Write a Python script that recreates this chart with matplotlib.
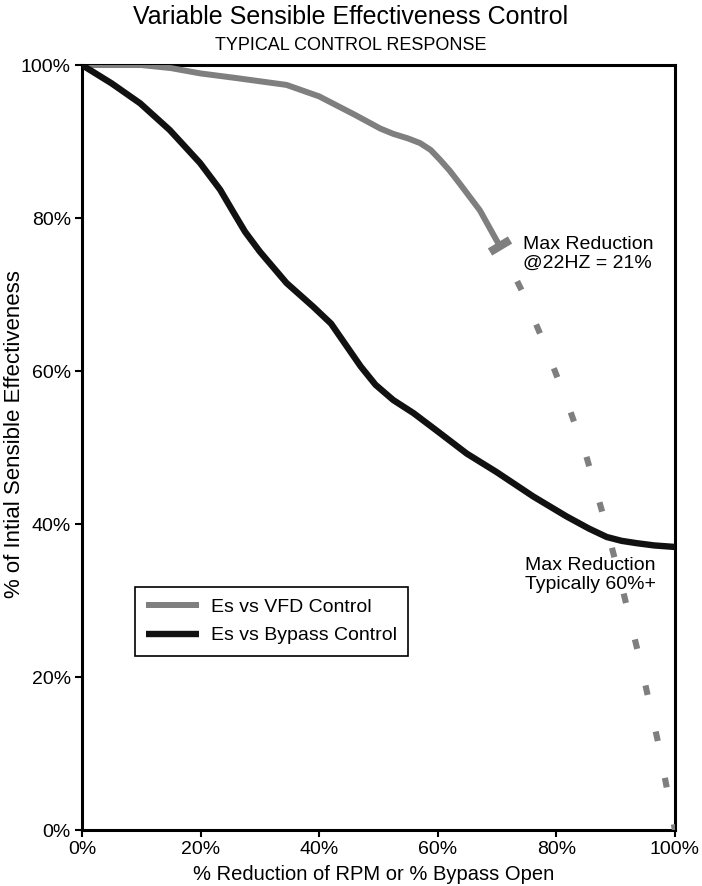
import matplotlib
matplotlib.use("Agg")
import matplotlib.pyplot as plt
from matplotlib.markers import MarkerStyle
from matplotlib.transforms import Affine2D

plt.rcParams['font.family'] = ['Liberation Sans', 'DejaVu Sans']
plt.rcParams['lines.scale_dashes'] = False

# ---- data ----
vfd_x = [0, 10, 15, 20, 26, 34.5, 40, 46, 50.3, 52.5, 55, 57, 58.8, 60.4, 62, 63.7, 67.1, 69.9, 70.5]
vfd_y = [100, 100, 99.6, 98.9, 98.3, 97.4, 95.9, 93.5, 91.7, 91.0, 90.4, 89.8, 88.9, 87.6, 86.2, 84.5, 81.0, 77.1, 76.3]

ext_x = [70.5, 74.3, 78, 82, 85, 88.5, 91, 94, 97, 100]
ext_y = [76.3, 70.3, 63.5, 55.5, 49, 39.5, 32, 22.5, 12, 0]

byp_x = [0, 5, 9.8, 14.8, 19.9, 23.3, 25.5, 27.5, 30, 34.5, 39, 42, 44.5, 47, 49.5,
         52.5, 55.9, 60, 64.9, 69.9, 76.1, 81.7, 85.5, 88.5, 91, 93.5, 96.5, 100]
byp_y = [100, 97.6, 95, 91.5, 87.2, 83.7, 80.8, 78.2, 75.6, 71.5, 68.4, 66.2, 63.4, 60.6, 58.2,
         56.2, 54.5, 52.1, 49.2, 46.8, 43.6, 41.0, 39.4, 38.3, 37.8, 37.5, 37.2, 37.0]

ticks = [0, 20, 40, 60, 80, 100]
tick_labels = ['0%', '20%', '40%', '60%', '80%', '100%']

title = 'Variable Sensible Effectiveness Control'
subtitle = 'TYPICAL CONTROL RESPONSE'
xlabel = '% Reduction of RPM or % Bypass Open'
ylabel = '% of Intial Sensible Effectiveness'
note1 = 'Max Reduction\n@22HZ = 21%'
note2 = 'Max Reduction\nTypically 60%+'
legend_labels = ['Es vs VFD Control', 'Es vs Bypass Control']

grey = '#7f7f7f'
black = '#111111'

fig = plt.figure(figsize=(7.02, 8.86), dpi=100)
ax = fig.add_axes([0.1168, 0.0632, 0.8447, 0.8634])

ax.plot(ext_x, ext_y, color=grey, lw=4.4, linestyle=(6, (7, 27)),
        dash_capstyle='butt', zorder=3)
l1, = ax.plot(vfd_x, vfd_y, color=grey, lw=4.3, solid_joinstyle='round',
              solid_capstyle='butt', zorder=4, label=legend_labels[0])
l2, = ax.plot(byp_x, byp_y, color=black, lw=4.6, solid_joinstyle='round',
              solid_capstyle='butt', zorder=5, label=legend_labels[1])
cap = MarkerStyle('_', transform=Affine2D().rotate_deg(30), capstyle='butt')
ax.plot([vfd_x[-1]], [vfd_y[-1]], marker=cap, markersize=17, markeredgewidth=6,
        color=grey, zorder=4)

ax.set_xlim(0, 100)
ax.set_ylim(0, 100)
ax.set_xticks(ticks)
ax.set_xticklabels(tick_labels)
ax.set_yticks(ticks)
ax.set_yticklabels(tick_labels)
ax.tick_params(direction='out', length=5, width=1.5, labelsize=14, pad=3)
for s in ax.spines.values():
    s.set_linewidth(2.2)
    s.set_color('black')

ax.text(74.4, 75.3, note1, fontsize=14, ha='left', va='center', linespacing=1.15)
ax.text(74.7, 33.3, note2, fontsize=14, ha='left', va='center', linespacing=1.15)

leg = ax.legend(handles=[l1, l2], loc='upper left', bbox_to_anchor=(0.089, 0.318),
                borderaxespad=0, fontsize=14, handlelength=2.7, handletextpad=0.6,
                labelspacing=0.55, borderpad=0.6, fancybox=False, framealpha=1,
                edgecolor='black')
leg.get_frame().set_linewidth(1.2)

fig.text(0.5, 1 - 17 / 886, title, ha='center', va='center', fontsize=18)
fig.text(0.5, 1 - 45 / 886, subtitle, ha='center', va='center', fontsize=13)
fig.text(374 / 702, 1 - 875 / 886, xlabel, ha='center', va='center', fontsize=14.5)
fig.text(15 / 702, 1 - 434 / 886, ylabel, ha='center', va='center', rotation=90, fontsize=16)

fig.savefig('out.png', dpi=100)
